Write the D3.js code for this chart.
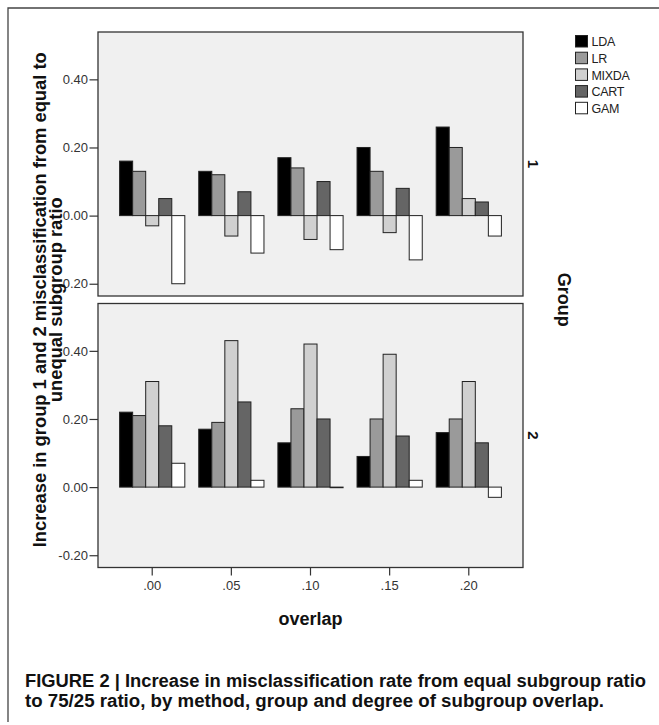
<!DOCTYPE html>
<html>
<head>
<meta charset="utf-8">
<script src="https://cdn.jsdelivr.net/npm/d3@7"></script>
<style>
  html, body { margin: 0; padding: 0; background: #fff; }
  svg { display: block; font-family: Arial, "Liberation Sans", sans-serif; }
  .tick text { fill: #333; font-size: 13px; }
  .tick line { stroke: #333; stroke-width: 1.2; }
  .panel-bg { fill: #f0f0f0; stroke: #333; stroke-width: 1.3; }
  .bar { stroke: #222; stroke-width: 1; }
  .bold { font-weight: bold; fill: #111; }
</style>
</head>
<body>
<div id="chart"></div>
<script>
(function () {
  "use strict";

  // ---------- DATA ----------
  const overlaps = [".00", ".05", ".10", ".15", ".20"];
  const methods = ["LDA", "LR", "MIXDA", "CART", "GAM"];
  const groups = ["1", "2"];

  // group 1
  const lda1 = [0.16, 0.13, 0.17, 0.20, 0.26];
  const lr1 = [0.13, 0.12, 0.14, 0.13, 0.20];
  const mixda1 = [-0.03, -0.06, -0.07, -0.05, 0.05];
  const cart1 = [0.05, 0.07, 0.10, 0.08, 0.04];
  const gam1 = [-0.20, -0.11, -0.10, -0.13, -0.06];

  // group 2
  const lda2 = [0.22, 0.17, 0.13, 0.09, 0.16];
  const lr2 = [0.21, 0.19, 0.23, 0.20, 0.20];
  const mixda2 = [0.31, 0.43, 0.42, 0.39, 0.31];
  const cart2 = [0.18, 0.25, 0.20, 0.15, 0.13];
  const gam2 = [0.07, 0.02, 0.00, 0.02, -0.03];

  const yTicks = [-0.2, 0, 0.2, 0.4];

  const seriesByGroup = {
    "1": [lda1, lr1, mixda1, cart1, gam1],
    "2": [lda2, lr2, mixda2, cart2, gam2],
  };

  const methodColors = ["#000000", "#9a9a9a", "#d0d0d0", "#656565", "#ffffff"];

  // ---------- LAYOUT ----------
  const W = 659, H = 725;
  const panelLeft = 98, panelWidth = 425, panelHeight = 264;
  const panelTops = [32, 303.5];

  const svg = d3.select("#chart").append("svg")
    .attr("width", W)
    .attr("height", H);

  // outer frame (only top and left edges are visible)
  svg.append("path")
    .attr("d", "M8,722V8H659")
    .attr("fill", "none")
    .attr("stroke", "#444")
    .attr("stroke-width", 1.3);

  const x = d3.scaleBand()
    .domain(overlaps)
    .range([panelLeft, panelLeft + panelWidth])
    .paddingInner(0.176)
    .paddingOuter(0.273);

  const xm = d3.scaleBand()
    .domain(methods)
    .range([0, x.bandwidth()]);

  const color = d3.scaleOrdinal().domain(methods).range(methodColors);

  // SPSS prints a plain hyphen, not the unicode minus
  const fmt = (d) => d3.format(".2f")(d).replace("\u2212", "-");

  // strip the defaults d3 puts on axis groups so the css applies
  function plainAxis(g) {
    g.attr("font-family", null).attr("font-size", null);
    g.select(".domain").remove();
  }

  // ---------- PANELS ----------
  groups.forEach((grp, gi) => {
    const top = panelTops[gi];
    const y = d3.scaleLinear()
      .domain([-0.236, 0.539])
      .range([top + panelHeight, top]);

    svg.append("rect")
      .attr("class", "panel-bg")
      .attr("x", panelLeft)
      .attr("y", top)
      .attr("width", panelWidth)
      .attr("height", panelHeight);

    const rows = [];
    seriesByGroup[grp].forEach((vals, mi) => {
      vals.forEach((v, oi) => {
        rows.push({ overlap: overlaps[oi], method: methods[mi], value: v });
      });
    });

    svg.append("g")
      .selectAll("rect")
      .data(rows)
      .join("rect")
      .attr("class", "bar")
      .attr("x", (d) => x(d.overlap) + xm(d.method))
      .attr("y", (d) => y(Math.max(0, d.value)))
      .attr("width", xm.bandwidth())
      .attr("height", (d) => Math.max(0.6, Math.abs(y(d.value) - y(0))))
      .attr("fill", (d) => color(d.method));

    svg.append("g")
      .attr("transform", `translate(${panelLeft},0)`)
      .call(d3.axisLeft(y)
        .tickValues(yTicks)
        .tickFormat(fmt)
        .tickSize(8.5)
        .tickPadding(1.5))
      .call(plainAxis);

    // panel label on the right
    svg.append("text")
      .attr("class", "bold")
      .attr("transform", `translate(528,${top + panelHeight / 2}) rotate(90)`)
      .attr("text-anchor", "middle")
      .attr("font-size", 15)
      .text(grp);
  });

  // ---------- X AXIS ----------
  const bottom = panelTops[1] + panelHeight;
  svg.append("g")
    .attr("transform", `translate(0,${bottom})`)
    .call(d3.axisBottom(x).tickSize(8).tickPadding(5))
    .call(plainAxis);

  // ---------- TITLES ----------
  svg.append("text")
    .attr("class", "bold")
    .attr("x", panelLeft + panelWidth / 2)
    .attr("y", 625)
    .attr("text-anchor", "middle")
    .attr("font-size", 18)
    .text("overlap");

  const yMid = (panelTops[0] + bottom) / 2;
  svg.append("text")
    .attr("class", "bold")
    .attr("transform", `translate(46,${yMid}) rotate(-90)`)
    .attr("text-anchor", "middle")
    .attr("font-size", 18.5)
    .attr("textLength", 495)
    .attr("lengthAdjust", "spacingAndGlyphs")
    .text("Increase in group 1 and 2 misclassification from equal to");

  svg.append("text")
    .attr("class", "bold")
    .attr("transform", `translate(62,${yMid}) rotate(-90)`)
    .attr("text-anchor", "middle")
    .attr("font-size", 18.5)
    .attr("textLength", 205)
    .attr("lengthAdjust", "spacingAndGlyphs")
    .text("unequal subgroup ratio");

  svg.append("text")
    .attr("class", "bold")
    .attr("transform", `translate(557.5,${yMid}) rotate(90)`)
    .attr("text-anchor", "middle")
    .attr("font-size", 18)
    .text("Group");

  // ---------- LEGEND ----------
  const legend = svg.append("g")
    .attr("transform", "translate(575.5,35.5)");

  const item = legend.selectAll("g")
    .data(methods)
    .join("g")
    .attr("transform", (d, i) => `translate(0,${i * 16.7})`);

  item.append("rect")
    .attr("width", 12)
    .attr("height", 11.5)
    .attr("fill", (d) => color(d))
    .attr("stroke", "#222")
    .attr("stroke-width", 1);

  item.append("text")
    .attr("x", 16)
    .attr("y", 10.8)
    .attr("font-size", 12.5)
    .attr("fill", "#222")
    .attr("letter-spacing", -0.3)
    .text((d) => d);

  // ---------- CAPTION ----------
  svg.append("text")
    .attr("class", "bold")
    .attr("x", 25)
    .attr("y", 687)
    .attr("font-size", 18)
    .attr("textLength", 621)
    .attr("lengthAdjust", "spacingAndGlyphs")
    .text("FIGURE 2 | Increase in misclassification rate from equal subgroup ratio");

  svg.append("text")
    .attr("class", "bold")
    .attr("x", 25)
    .attr("y", 707)
    .attr("font-size", 18)
    .attr("textLength", 579)
    .attr("lengthAdjust", "spacingAndGlyphs")
    .text("to 75/25 ratio, by method, group and degree of subgroup overlap.");
})();
</script>
</body>
</html>
